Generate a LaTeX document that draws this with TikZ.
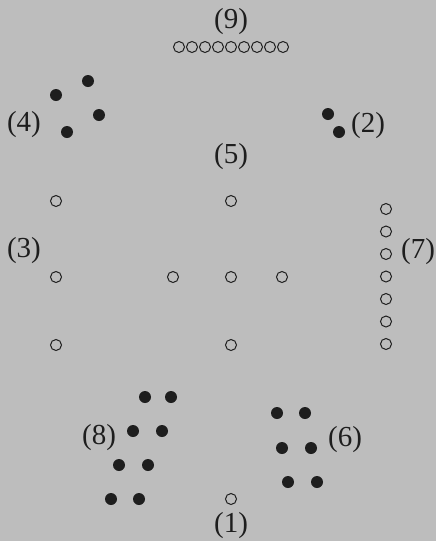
\documentclass[tikz,border=0pt]{standalone}
\usepackage{fontspec}
\setmainfont{Liberation Serif}
\usepackage{xcolor}
\definecolor{paper}{RGB}{189,189,189}
\definecolor{ink}{RGB}{30,30,30}

\begin{document}
\begin{tikzpicture}[x=0.5pt, y=-0.5pt,
    odd/.style={circle, draw=ink, line width=0.5pt, inner sep=0pt, minimum size=5.5pt},
    even/.style={circle, fill=ink, inner sep=0pt, minimum size=6pt},
    num/.style={text=ink, font=\fontsize{14.5}{16}\selectfont, inner sep=0pt}]
        % Page and background
        \fill[paper] (0,0) rectangle (436,541);
        \useasboundingbox (0,0) rectangle (436,541);

        % Nine at the top
        \node[num] (n9) at (231,22) {(9)};
        \foreach \i in {0,...,8}
            \node[odd] (a9-\i) at (179+13*\i,47) {};

        % Four and two
        \node[num] (n4) at (24,125) {(4)};
        \node[even] (a4-1) at (88,81) {};
        \node[even] (a4-2) at (56,95) {};
        \node[even] (a4-3) at (99,115) {};
        \node[even] (a4-4) at (67,132) {};
        \node[num] (n2) at (368,126) {(2)};
        \node[even] (a2-1) at (328,114) {};
        \node[even] (a2-2) at (339,132) {};

        % Three
        \node[num] (n3) at (24,251) {(3)};
        \node[odd] (a3-1) at (56,201) {};
        \node[odd] (a3-2) at (56,277) {};
        \node[odd] (a3-3) at (56,345) {};

        % Five in the middle
        \node[num] (n5) at (231,157) {(5)};
        \node[odd] (a5-1) at (231,201) {};
        \node[odd] (a5-2) at (173,277) {};
        \node[odd] (a5-3) at (231,277) {};
        \node[odd] (a5-4) at (282,277) {};
        \node[odd] (a5-5) at (231,345) {};

        % Seven
        \node[num] (n7) at (418,252) {(7)};
        \foreach \i in {0,...,6}
            \node[odd] (a7-\i) at (386,209+22.5*\i) {};

        % Eight
        \node[num] (n8) at (99,438) {(8)};
        \node[even] (a8-1) at (145,397) {};
        \node[even] (a8-2) at (171,397) {};
        \node[even] (a8-3) at (133,431) {};
        \node[even] (a8-4) at (162,431) {};
        \node[even] (a8-5) at (119,465) {};
        \node[even] (a8-6) at (148,465) {};
        \node[even] (a8-7) at (111,499) {};
        \node[even] (a8-8) at (139,499) {};

        % Six
        \node[num] (n6) at (345,440) {(6)};
        \node[even] (a6-1) at (277,413) {};
        \node[even] (a6-2) at (305,413) {};
        \node[even] (a6-3) at (282,448) {};
        \node[even] (a6-4) at (311,448) {};
        \node[even] (a6-5) at (288,482) {};
        \node[even] (a6-6) at (317,482) {};

        % One at the bottom
        \node[odd] (a1) at (231,499) {};
        \node[num] (n1) at (231,526) {(1)};
    \end{tikzpicture}
\end{document}
